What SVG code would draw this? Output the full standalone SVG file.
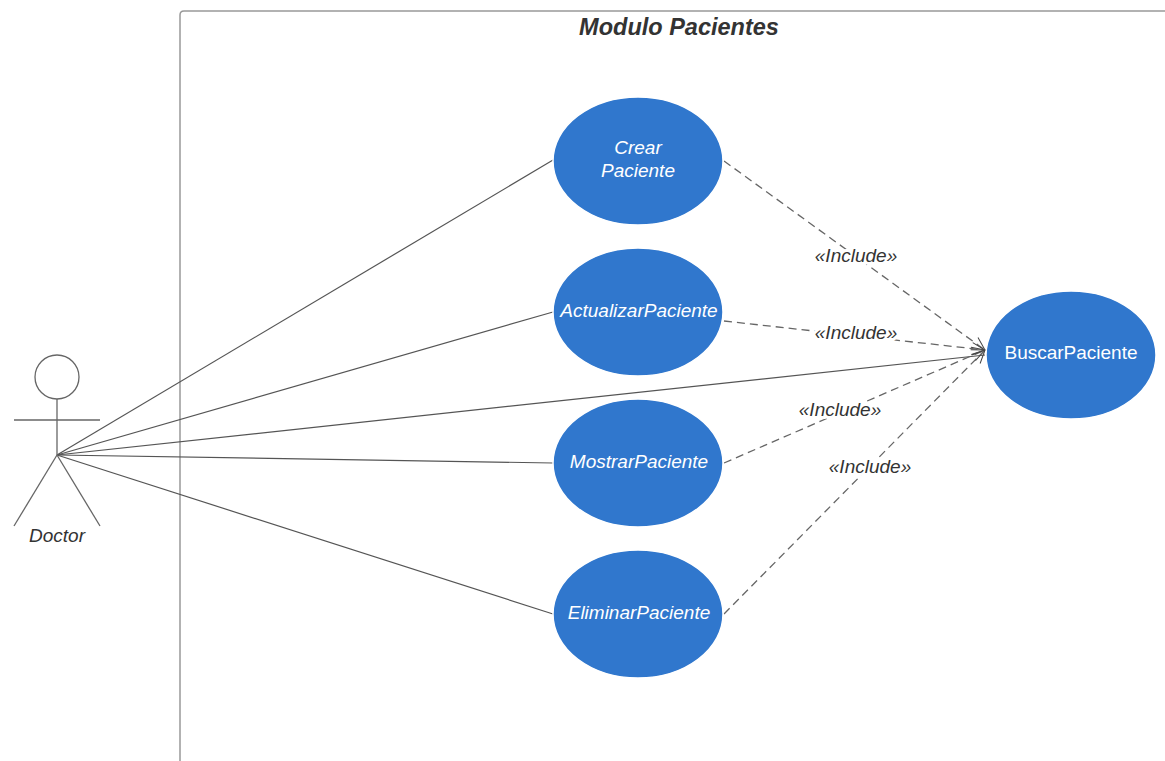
<svg xmlns="http://www.w3.org/2000/svg" width="1165" height="761" viewBox="0 0 1165 761">
<defs>
<marker id="open" markerWidth="16" markerHeight="16" refX="14" refY="8" orient="auto" markerUnits="userSpaceOnUse">
<path d="M1,2 L14,8 L1,14" fill="none" stroke="#444" stroke-width="1"/>
</marker>
<style>
.uc{fill:#3077cd;stroke:#fff;stroke-width:1.5}
.ut{fill:#fff;font-family:"Liberation Sans",Arial,sans-serif;font-size:19px;text-anchor:middle;font-style:italic}
.assoc{stroke:#555;stroke-width:1.2;fill:none}
.dep{stroke:#666;stroke-width:1.3;fill:none;stroke-dasharray:8,5;marker-end:url(#open)}
.lbl{fill:#333;font-family:"Liberation Sans",Arial,sans-serif;font-size:19px;font-style:italic;text-anchor:middle}
.stick{stroke:#666;stroke-width:1.3;fill:none}
</style>
</defs>
<rect width="1165" height="761" fill="#fff"/>
<g id="system">
<path d="M180,770 L180,15 Q180,11 184,11 L1175,11" fill="none" stroke="#999" stroke-width="1.5"/>
<text x="679" y="35" fill="#333" font-family="Liberation Sans,Arial,sans-serif" font-size="23.5" font-weight="bold" font-style="italic" text-anchor="middle">Modulo Pacientes</text>
</g>
<g id="connectors">
<line class="assoc" x1="57" y1="455" x2="553" y2="160"/>
<line class="assoc" x1="57" y1="455" x2="553" y2="312"/>
<line class="assoc" x1="57" y1="455" x2="985" y2="355"/>
<line class="assoc" x1="57" y1="455" x2="553" y2="463"/>
<line class="assoc" x1="57" y1="455" x2="553" y2="614"/>
<line class="dep" x1="724" y1="161" x2="985" y2="350"/>
<line class="dep" x1="724" y1="321" x2="985" y2="350"/>
<line class="dep" x1="724" y1="463" x2="985" y2="350"/>
<line class="dep" x1="724" y1="614" x2="985" y2="350"/>
<text class="lbl" x="856" y="262" style="paint-order:stroke" stroke="#fff" stroke-width="6">«Include»</text>
<text class="lbl" x="856" y="339" style="paint-order:stroke" stroke="#fff" stroke-width="6">«Include»</text>
<text class="lbl" x="840" y="416" style="paint-order:stroke" stroke="#fff" stroke-width="6">«Include»</text>
<text class="lbl" x="870" y="473" style="paint-order:stroke" stroke="#fff" stroke-width="6">«Include»</text>
</g>
<g id="doctor">
<circle class="stick" cx="57" cy="377" r="22"/>
<line class="stick" x1="57" y1="399" x2="57" y2="455"/>
<line class="stick" x1="14" y1="420" x2="100" y2="420"/>
<line class="stick" x1="57" y1="455" x2="14" y2="526"/>
<line class="stick" x1="57" y1="455" x2="100" y2="526"/>
<text x="57" y="542" fill="#333" font-family="Liberation Sans,Arial,sans-serif" font-size="19" font-style="italic" text-anchor="middle">Doctor</text>
</g>
<g id="crear">
<ellipse class="uc" cx="638" cy="161" rx="85" ry="64"/>
<text class="ut" x="638" y="154">Crear</text>
<text class="ut" x="638" y="177">Paciente</text>
</g>
<g id="actualizar">
<ellipse class="uc" cx="638" cy="312" rx="85" ry="64"/>
<text class="ut" x="639" y="317">ActualizarPaciente</text>
</g>
<g id="mostrar">
<ellipse class="uc" cx="638" cy="463" rx="85" ry="64"/>
<text class="ut" x="639" y="468">MostrarPaciente</text>
</g>
<g id="eliminar">
<ellipse class="uc" cx="638" cy="614" rx="85" ry="64"/>
<text class="ut" x="639" y="619">EliminarPaciente</text>
</g>
<g id="buscar">
<ellipse class="uc" cx="1071" cy="355" rx="85" ry="64"/>
<text class="ut" x="1071" y="359" style="font-style:normal">BuscarPaciente</text>
</g>
</svg>
